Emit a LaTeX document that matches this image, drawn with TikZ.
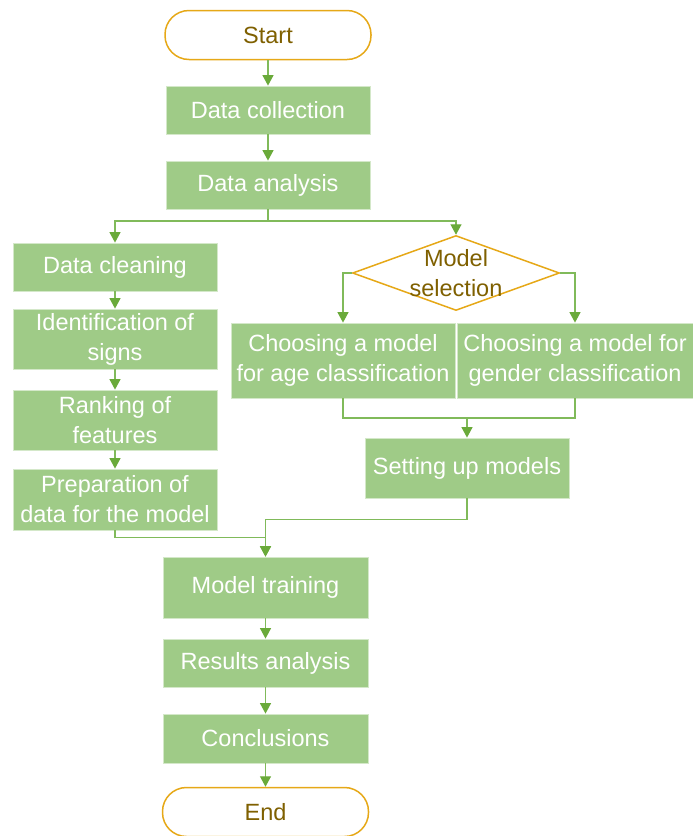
\documentclass[tikz,border=0pt]{standalone}
\usepackage{fontspec}
\setmainfont{Liberation Sans}
\usetikzlibrary{arrows.meta,shapes.geometric,calc}
\definecolor{boxg}{HTML}{9FCB87}
\definecolor{lineg}{HTML}{80BA5A}
\definecolor{tipg}{HTML}{6AAA3A}
\definecolor{goldc}{HTML}{E6A817}
\definecolor{brownc}{HTML}{7F6000}
\begin{document}
\begin{tikzpicture}[x=1pt,y=-1pt,
  txt/.style={font=\fontsize{23.5}{30}\selectfont, align=center, inner sep=0pt},
  proc/.style={txt, rectangle, fill=boxg, draw=white!55!boxg, line width=0.8pt, text=white},
  term/.style={txt, rectangle, rounded corners=24pt, draw=goldc, line width=1.5pt, fill=white, text=brownc, minimum width=206pt, minimum height=49pt},
  dec/.style={diamond, draw=goldc, line width=1.5pt, fill=white, minimum width=207pt, minimum height=75pt, inner sep=0pt},
  wire/.style={draw=lineg, line width=1.3pt},
  conn/.style={wire, -{Triangle[width=11pt,length=10.5pt,color=tipg]}}
]
\useasboundingbox (0,0) rectangle (693,836);

% main column
\node[term] (start) at (268,35) {Start};
\node[proc, minimum width=204pt, minimum height=48pt] (dc) at (268,110) {Data collection};
\node[proc, minimum width=204pt, minimum height=48pt] (da) at (268,185) {Data analysis};

% left column
\node[proc, minimum width=204pt, minimum height=48pt] (clean) at (115,267) {Data cleaning};
\node[proc, minimum width=204pt, minimum height=60pt] (ident) at (115,339) {Identification of\\signs};
\node[proc, minimum width=204pt, minimum height=60pt] (rank) at (115,420) {Ranking of\\features};
\node[proc, minimum width=204pt, minimum height=61pt] (prep) at (115,499.5) {Preparation of\\data for the model};

% right column
\node[dec] (ms) at (456,273) {};
\node[txt, text=brownc] (mstext) at (ms) {Model\\selection};
\node[proc, minimum width=224pt, minimum height=75pt] (age) at (343,360.5) {Choosing a model\\for age classification};
\node[proc, minimum width=236pt, minimum height=75pt] (gender) at (575,360.5) {Choosing a model for\\gender classification};
\node[proc, minimum width=204pt, minimum height=60pt] (setup) at (467,468) {Setting up models};

% bottom column
\node[proc, minimum width=205pt, minimum height=61pt] (train) at (265.5,587.5) {Model training};
\node[proc, minimum width=205pt, minimum height=48pt] (res) at (265.5,663) {Results analysis};
\node[proc, minimum width=205pt, minimum height=49pt] (conc) at (265.5,738.5) {Conclusions};
\node[term] (end) at (265.5,812) {End};

% junctions
\coordinate (j1) at (268,221);
\coordinate (j2) at (467,418);

% connectors
\draw[conn] (start) -- (dc);
\draw[conn] (dc) -- (da);
\draw[wire] (da.south) -- (j1);
\draw[conn] (j1) -| (clean.north);
\draw[conn] (j1) -| (ms.north);

\draw[conn] (clean) -- (ident);
\draw[conn] (ident) -- (rank);
\draw[conn] (rank) -- (prep);

\draw[conn] (ms.west) -| (age.north);
\draw[conn] (ms.east) -| (gender.north);
\draw[wire] (age.south) |- (j2) -| (gender.south);
\draw[conn] (j2) -- (setup.north);

\draw[conn] (prep.south) -- ++(0,7) -| (train.north);
\draw[conn] (setup.south) -- ++(0,21) -| (train.north);

\draw[conn] (train) -- (res);
\draw[conn] (res) -- (conc);
\draw[conn] (conc) -- (end);
\end{tikzpicture}
\end{document}
